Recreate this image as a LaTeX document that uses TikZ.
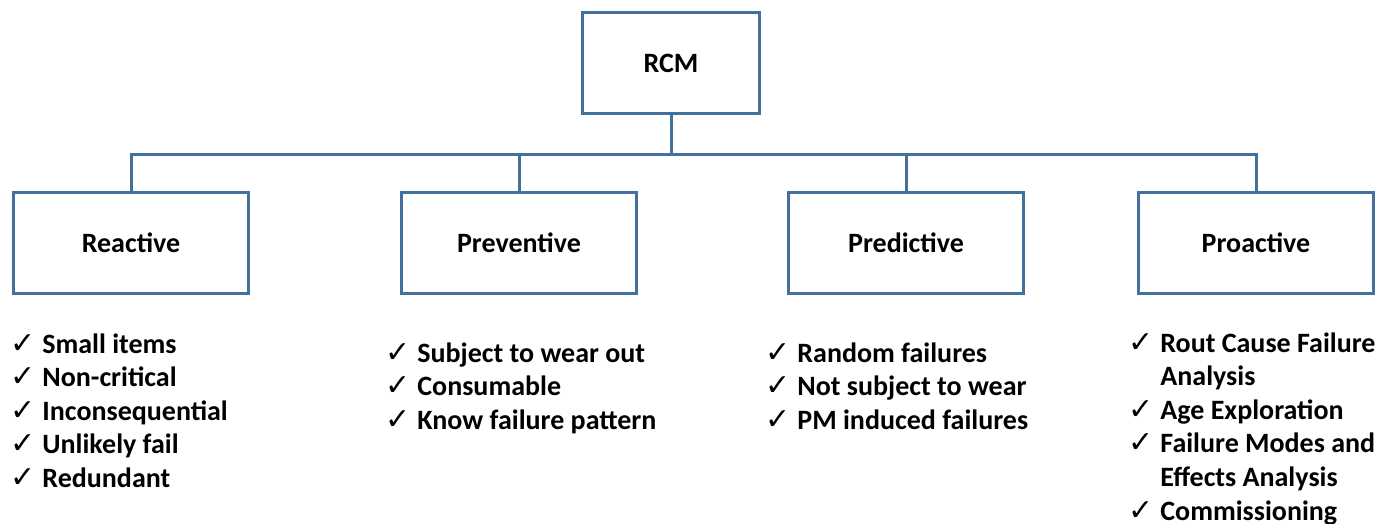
\documentclass[tikz,border=0pt]{standalone}
\usepackage{fontspec}
\setmainfont{Carlito}
\newfontfamily\symfont{DejaVu Sans}
\usepackage{tikz}
\definecolor{boxblue}{RGB}{68,112,158}
\newcommand{\chk}{\makebox[16pt][l]{\symfont\mdseries\fontsize{15}{12}\selectfont ✓}}
\tikzset{
  stratbox/.style={draw=boxblue, line width=1.5pt, fill=white,
                   minimum width=117.5pt, minimum height=50.5pt,
                   font=\bfseries\fontsize{14}{16}\selectfont},
  tree/.style={draw=boxblue, line width=1.5pt},
  checklist/.style={anchor=base west, inner sep=0pt,
                    font=\bfseries\fontsize{14}{16.8}\selectfont}
}
\begin{document}
\begin{tikzpicture}[x=0.5pt,y=-0.5pt]
  \useasboundingbox (0,0) rectangle (1380,524);
  % root and the four strategies
  \node[stratbox, minimum width=88.5pt] (rcm) at (671,63) {RCM};
  \node[stratbox] (reactive) at (131,243) {Reactive};
  \node[stratbox] (preventive) at (519,243) {Preventive};
  \node[stratbox] (predictive) at (906,243) {Predictive};
  \node[stratbox] (proactive) at (1256,243) {Proactive};
  % tree lines
  \coordinate (bar) at (671,154);
  \draw[tree] (rcm.south) -- (bar);
  \draw[tree] (reactive.north) |- (bar) -| (proactive.north);
  \draw[tree] (preventive.north) -- (preventive.north |- bar);
  \draw[tree] (predictive.north) -- (predictive.north |- bar);
  % check lists
  \node[checklist] (reactlist) at (10,353) {\begin{tabular}[t]{@{}l@{}}
      \chk Small items\\
      \chk Non-critical\\
      \chk Inconsequential\\
      \chk Unlikely fail\\
      \chk Redundant
    \end{tabular}};
  \node[checklist] (prevlist) at (385,362) {\begin{tabular}[t]{@{}l@{}}
      \chk Subject to wear out\\
      \chk Consumable\\
      \chk Know failure pattern
    \end{tabular}};
  \node[checklist] (predlist) at (765,362) {\begin{tabular}[t]{@{}l@{}}
      \chk Random failures\\
      \chk Not subject to wear\\
      \chk PM induced failures
    \end{tabular}};
  \node[checklist] (proactlist) at (1128,352) {\begin{tabular}[t]{@{}l@{}}
      \chk Rout Cause Failure\\
      \hspace{16pt}Analysis\\
      \chk Age Exploration\\
      \chk Failure Modes and\\
      \hspace{16pt}Effects Analysis\\
      \chk Commissioning
    \end{tabular}};
\end{tikzpicture}
\end{document}
